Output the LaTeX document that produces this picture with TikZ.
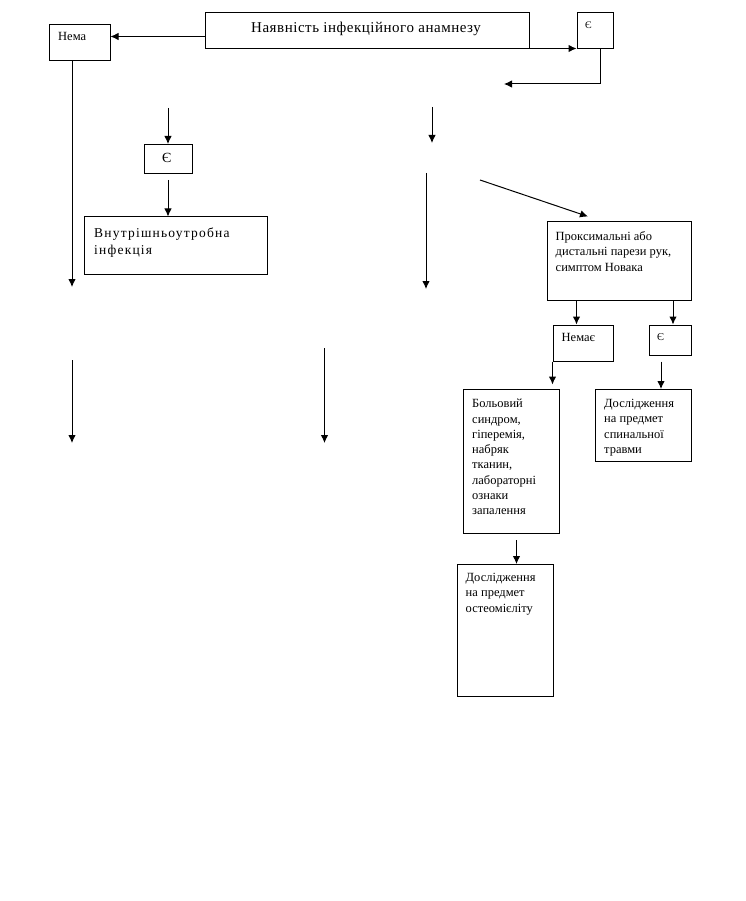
\documentclass[tikz,border=0pt]{standalone}
\usepackage{fontspec}
\setmainfont{Liberation Serif}
\usetikzlibrary{shapes,arrows,arrows.meta,positioning,calc}

\tikzset{
  box/.style={draw, line width=1pt, inner sep=0pt, anchor=north west},
  txt/.style={anchor=north west, inner sep=0pt, align=left, font=\fontsize{12.5}{15.3}\selectfont},
  arr/.style={-{Latex[length=8pt,width=7.5pt]}, line width=1pt},
}

\begin{document}
\begin{tikzpicture}[x=1pt,y=-1pt]
    \useasboundingbox (0,0) rectangle (745,901);

    % Top row
    \node[box, minimum width=324pt, minimum height=36pt] (title) at (205,12.5) {};
    \node[txt, font=\fontsize{15}{18}\selectfont\addfontfeature{LetterSpace=3.5}] (titletxt) at (251,21.5) {Наявність інфекційного анамнезу};
    \node[box, minimum width=61pt, minimum height=36pt] (nema) at (48.5,24.5) {};
    \node[txt] (nematxt) at (58,32.5) {Нема};
    \node[box, minimum width=36pt, minimum height=36pt] (yes1) at (576.5,12.5) {};
    \node[txt, font=\fontsize{10}{12}\selectfont] (yes1txt) at (585,22) {Є};

    % Left branch
    \node[box, minimum width=48pt, minimum height=29pt] (yes2) at (144,144) {};
    \node[txt, font=\fontsize{14}{16}\selectfont] (yes2txt) at (162,153) {Є};
    \node[box, minimum width=183pt, minimum height=57pt] (vnutr) at (84,216.5) {};
    \node[txt, font=\fontsize{13.5}{16.3}\selectfont\addfontfeature{LetterSpace=9}] (vnutrtxt) at (94,228) {Внутрішньоутробна\\інфекція};

    % Right branch
    \node[box, minimum width=144pt, minimum height=79pt] (prox) at (546.5,221) {};
    \node[txt] (proxtxt) at (555.5,231.5) {Проксимальні або\\дистальні парези рук,\\симптом Новака};
    \node[box, minimum width=60pt, minimum height=36pt] (nemae) at (552.5,324.5) {};
    \node[txt] (nemaetxt) at (561.5,333) {Немає};
    \node[box, minimum width=42pt, minimum height=30pt] (yes3) at (648.5,324.5) {};
    \node[txt, font=\fontsize{10.5}{12}\selectfont] (yes3txt) at (657,333) {Є};
    \node[box, minimum width=96pt, minimum height=144pt] (pain) at (462.5,389) {};
    \node[txt] (paintxt) at (472,399) {Больовий\\синдром,\\гіперемія,\\набряк\\тканин,\\лабораторні\\ознаки\\запалення};
    \node[box, minimum width=96pt, minimum height=72pt] (spine) at (594.5,389) {};
    \node[txt] (spinetxt) at (604,399) {Дослідження\\на предмет\\спинальної\\травми};
    \node[box, minimum width=96pt, minimum height=132pt] (osteo) at (456.5,564) {};
    \node[txt] (osteotxt) at (465.5,573) {Дослідження\\на предмет\\остеомієліту};

    % Free ends
    \coordinate (yesend) at (504,84);
    \coordinate (nemaend) at (72,287);
    \coordinate (a1) at (168,108);
    \coordinate (a2) at (168,180);
    \coordinate (b1) at (432,107);
    \coordinate (b2) at (432,143);
    \coordinate (c1) at (426,173);
    \coordinate (c2) at (426,289);
    \coordinate (d1) at (480,180);
    \coordinate (d2) at (588,216.5);
    \coordinate (e1) at (516.5,540);
    \coordinate (f1) at (72,360);
    \coordinate (f2) at (72,443);
    \coordinate (g1) at (324.5,348);
    \coordinate (g2) at (324.5,443);

    % Connectors
    \draw[arr] ([yshift=-5.5pt]title.west) -- ([yshift=-5.5pt]title.west -| nema.east);
    \draw[arr] ([yshift=1pt]title.south east) -- ([yshift=1pt]title.south east -| yes1.west);
    \draw[arr] ([xshift=5.5pt]yes1.south) |- (yesend);
    \draw[arr] (nemaend |- nema.south) -- (nemaend);
    \draw[arr] (a1) -- (a1 |- yes2.north);
    \draw[arr] (a2) -- (a2 |- vnutr.north);
    \draw[arr] (b1) -- (b2);
    \draw[arr] (c1) -- (c2);
    \draw[arr] (d1) -- (d2);
    \draw[arr] ([xshift=-42.5pt]prox.south) -- ([xshift=-42.5pt]prox.south |- nemae.north);
    \draw[arr] ([xshift=54pt]prox.south) -- ([xshift=54pt]prox.south |- yes3.north);
    \draw[arr] (nemae.south west) -- ([yshift=-23pt]nemae.south west);
    \draw[arr] ([xshift=-9pt,yshift=-6pt]yes3.south) -- ([xshift=-9pt]yes3.south |- spine.north);
    \draw[arr] (e1) -- (e1 |- osteo.north);
    \draw[arr] (f1) -- (f2);
    \draw[arr] (g1) -- (g2);
\end{tikzpicture}
\end{document}
